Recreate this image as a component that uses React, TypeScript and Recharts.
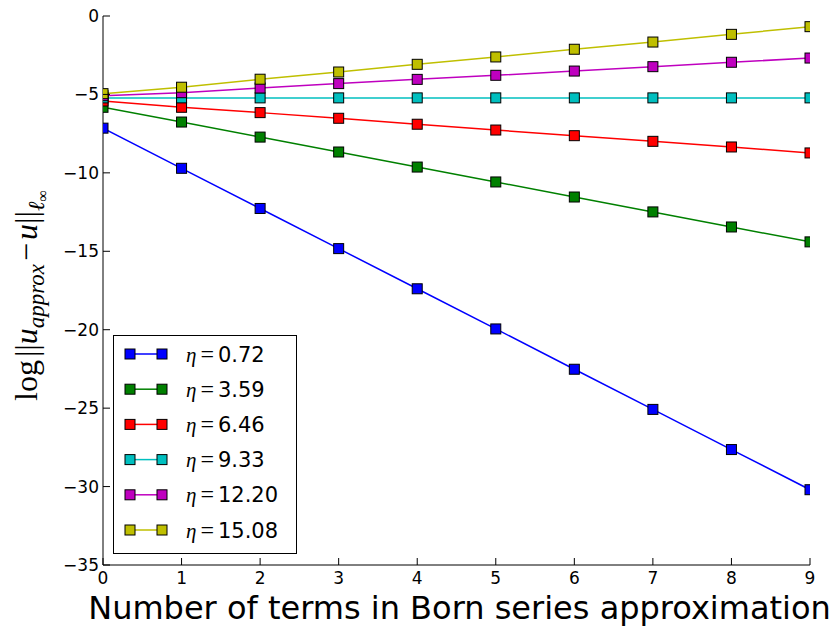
import React from 'react';
import { LineChart, Line, XAxis, YAxis, Legend } from 'recharts';

const terms = [0, 1, 2, 3, 4, 5, 6, 7, 8, 9];
const eta072 = [-7.15, -9.71, -12.27, -14.83, -17.39, -19.95, -22.52, -25.08, -27.64, -30.2];
const eta359 = [-5.82, -6.76, -7.72, -8.67, -9.63, -10.58, -11.54, -12.49, -13.45, -14.4];
const eta646 = [-5.42, -5.82, -6.16, -6.52, -6.9, -7.27, -7.63, -7.99, -8.35, -8.73];
const eta933 = [-5.22, -5.22, -5.22, -5.22, -5.22, -5.22, -5.22, -5.22, -5.22, -5.22];
const eta1220 = [-5.08, -4.89, -4.59, -4.31, -4.04, -3.78, -3.51, -3.23, -2.95, -2.68];
const eta1508 = [-4.95, -4.54, -4.03, -3.57, -3.08, -2.61, -2.12, -1.66, -1.17, -0.68];

const etaLabels = ['0.72', '3.59', '6.46', '9.33', '12.20', '15.08'];
const colors = ['#0000ff', '#008000', '#ff0000', '#00bfbf', '#bf00bf', '#bfbf00'];
const seriesValues = [eta072, eta359, eta646, eta933, eta1220, eta1508];
const seriesKeys = ['e072', 'e359', 'e646', 'e933', 'e1220', 'e1508'];

const xTicks = [0, 1, 2, 3, 4, 5, 6, 7, 8, 9];
const yTicks = [0, -5, -10, -15, -20, -25, -30, -35];

const data = terms.map((t, i) => {
  const row: any = { t };
  seriesKeys.forEach((k, s) => {
    row[k] = seriesValues[s][i];
  });
  return row;
});

const fmt = (v: number) => String(v).replace('-', '\u2212');
const TICK_FONT = 'DejaVu Sans';
const MATH_FONT = 'Liberation Serif';

const BottomTick = (p: any) => (
  <g>
    <line x1={p.x} y1={p.y} x2={p.x} y2={p.y - 7} stroke="#000" strokeWidth={1} />
    <text x={p.x} y={p.y + 19} textAnchor="middle" fontFamily={TICK_FONT} fontSize={17} fill="#000">
      {fmt(p.payload.value)}
    </text>
  </g>
);
const TopTick = (p: any) => (
  <line x1={p.x} y1={p.y} x2={p.x} y2={p.y + 7} stroke="#000" strokeWidth={1} />
);
const LeftTick = (p: any) => (
  <g>
    <line x1={p.x} y1={p.y} x2={p.x + 7} y2={p.y} stroke="#000" strokeWidth={1} />
    <text x={p.x - 4} y={p.y + 6} textAnchor="end" fontFamily={TICK_FONT} fontSize={17} fill="#000">
      {fmt(p.payload.value)}
    </text>
  </g>
);
const RightTick = (p: any) => (
  <line x1={p.x} y1={p.y} x2={p.x - 7} y2={p.y} stroke="#000" strokeWidth={1} />
);

const makeDot = (color: string) => (p: any) => (
  <rect
    key={`d-${p.index}`}
    x={p.cx - 5}
    y={p.cy - 5}
    width={10}
    height={10}
    fill={color}
    stroke="#000"
    strokeWidth={1}
  />
);

const XTitle = (props: any) => {
  const vb = props.viewBox;
  return (
    <text
      x={vb.x + vb.width / 2 + 3}
      y={vb.y + 54}
      textAnchor="middle"
      fontFamily={TICK_FONT}
      fontSize={32}
      fill="#000"
    >
      Number of terms in Born series approximation
    </text>
  );
};

const YTitle = (props: any) => {
  const vb = props.viewBox;
  const x = vb.x + 37;
  const y = vb.y + vb.height / 2 + 5;
  return (
    <text
      transform={`rotate(-90, ${x}, ${y})`}
      x={x}
      y={y}
      textAnchor="middle"
      fontFamily={MATH_FONT}
      fontSize={32}
      fill="#000"
    >
      <tspan>log</tspan>
      <tspan dx={3}>||</tspan>
      <tspan fontStyle="italic">u</tspan>
      <tspan fontStyle="italic" fontSize={23} dy={7}>approx</tspan>
      <tspan dy={-7} dx={3}>{'\u2212'}</tspan>
      <tspan fontStyle="italic" dx={3}>u</tspan>
      <tspan>||</tspan>
      <tspan fontStyle="italic" fontSize={23} dy={7}>{'\u2113'}</tspan>
      <tspan fontSize={16} dy={4}>{'\u221e'}</tspan>
    </text>
  );
};

const LegendBox = () => {
  const w = 184;
  const h = 219;
  return (
    <svg width={w} height={h} style={{ display: 'block' }}>
      <rect x={0.5} y={0.5} width={w - 1} height={h - 1} fill="#fff" stroke="#000" strokeWidth={1} />
      {etaLabels.map((lab, i) => {
        const cy = 19 + i * 35.2;
        return (
          <g key={lab}>
            <line x1={17} y1={cy} x2={49} y2={cy} stroke={colors[i]} strokeWidth={1.5} />
            <rect x={12} y={cy - 5} width={10} height={10} fill={colors[i]} stroke="#000" />
            <rect x={44} y={cy - 5} width={10} height={10} fill={colors[i]} stroke="#000" />
            <text x={73} y={cy + 7.5} fontSize={21} fill="#000">
              <tspan fontFamily={MATH_FONT} fontStyle="italic">{'\u03b7'}</tspan>
              <tspan fontFamily={MATH_FONT} fontSize={24} dx={4}>=</tspan>
              <tspan fontFamily={TICK_FONT} dx={4}>{lab}</tspan>
            </text>
          </g>
        );
      })}
    </svg>
  );
};

export default function App() {
  return (
    <div style={{ position: 'absolute', left: 0, top: 0, width: 832, height: 630, background: '#fff' }}>
      <LineChart width={832} height={630} data={data} margin={{ top: 16, right: 22, bottom: 0, left: 0 }}>
        <XAxis
          dataKey="t"
          type="number"
          domain={[0, 9]}
          ticks={xTicks}
          allowDataOverflow
          height={65}
          tickSize={0}
          tickMargin={0}
          tickLine={false}
          tick={BottomTick}
          axisLine={{ stroke: '#000', strokeWidth: 1 }}
          interval={0}
          label={{ content: XTitle }}
        />
        <XAxis
          xAxisId="top"
          orientation="top"
          dataKey="t"
          type="number"
          domain={[0, 9]}
          ticks={xTicks}
          height={0}
          tickSize={0}
          tickMargin={0}
          tickLine={false}
          tick={TopTick}
          axisLine={{ stroke: '#000', strokeWidth: 1 }}
          interval={0}
        />
        <YAxis
          type="number"
          domain={[-35, 0]}
          ticks={yTicks}
          allowDataOverflow
          width={103}
          tickSize={0}
          tickMargin={0}
          tickLine={false}
          tick={LeftTick}
          axisLine={{ stroke: '#000', strokeWidth: 1 }}
          interval={0}
          label={{ content: YTitle }}
        />
        <YAxis
          yAxisId="right"
          orientation="right"
          type="number"
          domain={[-35, 0]}
          ticks={yTicks}
          width={0}
          tickSize={0}
          tickMargin={0}
          tickLine={false}
          tick={RightTick}
          axisLine={{ stroke: '#000', strokeWidth: 1 }}
          interval={0}
        />
        {seriesKeys.map((k, i) => (
          <Line
            key={k}
            dataKey={k}
            name={etaLabels[i]}
            stroke={colors[i]}
            strokeWidth={1.5}
            dot={makeDot(colors[i])}
            activeDot={false}
            isAnimationActive={false}
          />
        ))}
        <Legend
          layout="vertical"
          align="center"
          verticalAlign="middle"
          content={LegendBox}
          wrapperStyle={{ position: 'absolute', left: 113, top: 335, width: 184, height: 219 }}
        />
      </LineChart>
    </div>
  );
}
